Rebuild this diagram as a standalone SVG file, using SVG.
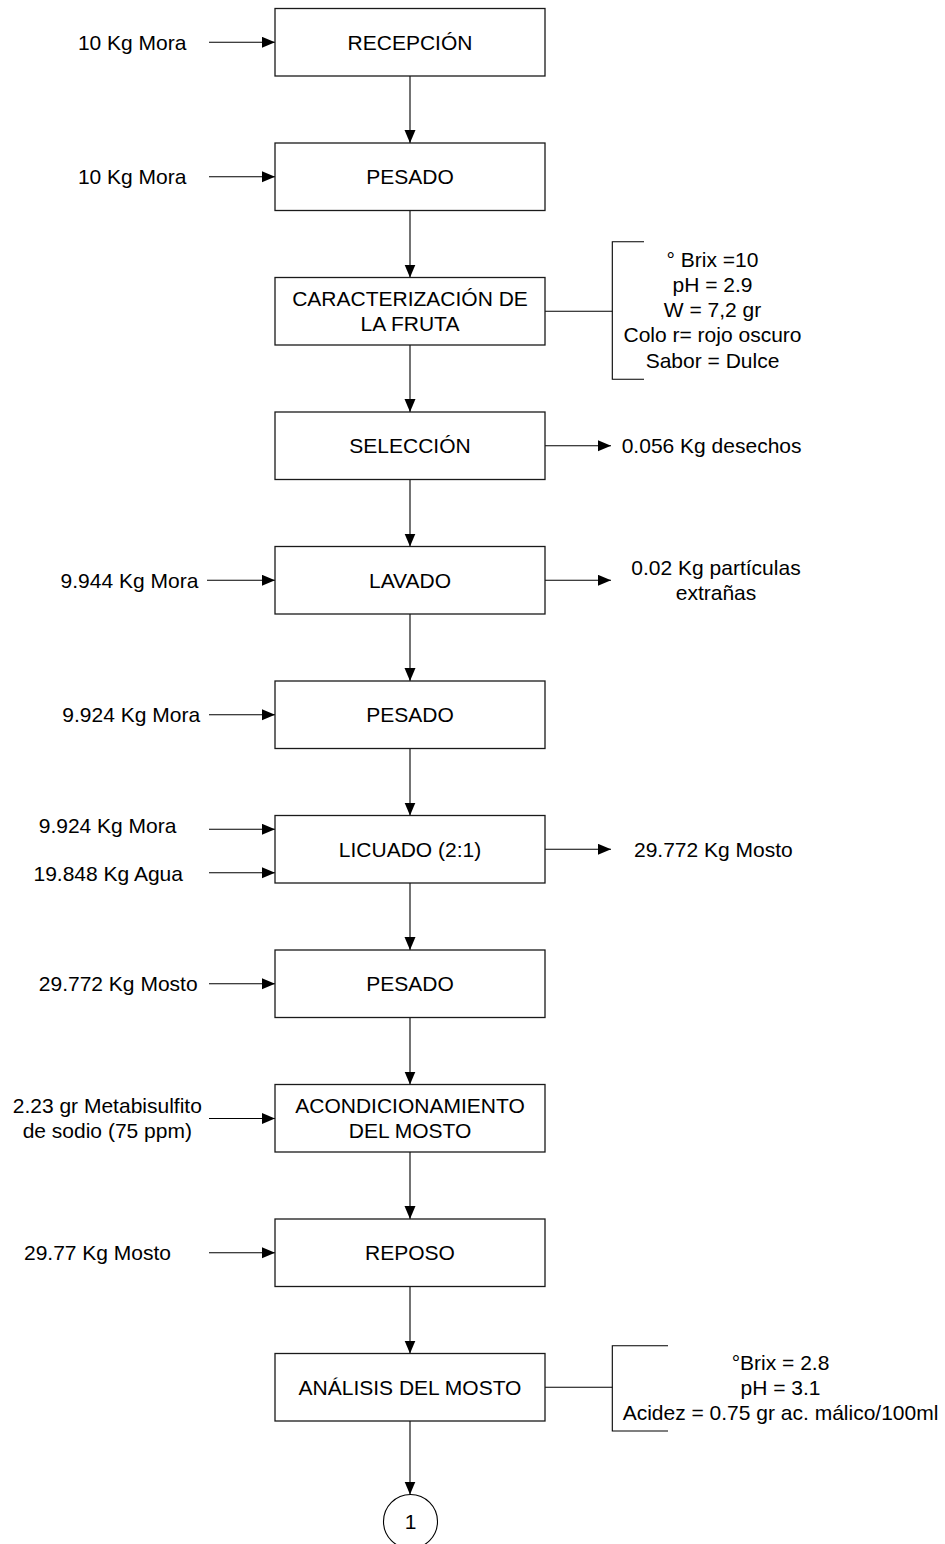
<svg xmlns="http://www.w3.org/2000/svg" width="945" height="1544" viewBox="0 0 945 1544">
<style>
text{font-family:"Liberation Sans",Arial,sans-serif;font-size:21px;fill:#000}
.c{text-anchor:middle}
.box{fill:#fff;stroke:#1a1a1a;stroke-width:1.3}
.ln{fill:none;stroke:#000;stroke-width:1.1}
.ar{fill:none;stroke:#000;stroke-width:1.1;marker-end:url(#ah)}
</style>
<defs>
<marker id="ah" markerUnits="userSpaceOnUse" markerWidth="14" markerHeight="12" refX="13" refY="5.5" orient="auto">
<path d="M0,0 L13,5.5 L0,11 z" fill="#000"/>
</marker>
</defs>
<g id="connectors">
<line class="ar" x1="410" y1="76" x2="410" y2="143"/>
<line class="ar" x1="410" y1="210.5" x2="410" y2="277.5"/>
<line class="ar" x1="410" y1="345" x2="410" y2="412"/>
<line class="ar" x1="410" y1="479.5" x2="410" y2="546.5"/>
<line class="ar" x1="410" y1="614" x2="410" y2="681"/>
<line class="ar" x1="410" y1="748.5" x2="410" y2="815.5"/>
<line class="ar" x1="410" y1="883" x2="410" y2="950"/>
<line class="ar" x1="410" y1="1017.5" x2="410" y2="1084.5"/>
<line class="ar" x1="410" y1="1152" x2="410" y2="1219"/>
<line class="ar" x1="410" y1="1286.5" x2="410" y2="1353.5"/>
<line class="ar" x1="410" y1="1421" x2="410" y2="1494.5"/>
<line class="ar" x1="209" y1="42.3" x2="275" y2="42.3"/>
<line class="ar" x1="209" y1="176.8" x2="275" y2="176.8"/>
<line class="ar" x1="545" y1="445.8" x2="611" y2="445.8"/>
<line class="ar" x1="207" y1="580.3" x2="275" y2="580.3"/>
<line class="ar" x1="545" y1="580.3" x2="611" y2="580.3"/>
<line class="ar" x1="209" y1="714.8" x2="275" y2="714.8"/>
<line class="ar" x1="209" y1="829.3" x2="275" y2="829.3"/>
<line class="ar" x1="209" y1="872.7" x2="275" y2="872.7"/>
<line class="ar" x1="545" y1="849.3" x2="611" y2="849.3"/>
<line class="ar" x1="209" y1="983.8" x2="275" y2="983.8"/>
<line class="ar" x1="209" y1="1118.5" x2="275" y2="1118.5"/>
<line class="ar" x1="209" y1="1252.8" x2="275" y2="1252.8"/>
<line class="ln" x1="545" y1="311.3" x2="612.3" y2="311.3"/>
<polyline class="ln" points="644,241.7 612.3,241.7 612.3,379.3 644,379.3"/>
<line class="ln" x1="545" y1="1387.3" x2="612.3" y2="1387.3"/>
<polyline class="ln" points="668,1345.7 612.3,1345.7 612.3,1431 668,1431"/>
</g>
<g id="n-recepcion"><rect class="box" x="275" y="8.5" width="270" height="67.5"/><text class="c" x="410" y="49.8">RECEPCIÓN</text></g>
<g id="n-pesado1"><rect class="box" x="275" y="143" width="270" height="67.5"/><text class="c" x="410" y="184.3">PESADO</text></g>
<g id="n-caract"><rect class="box" x="275" y="277.5" width="270" height="67.5"/><text class="c" x="410" y="306.2">CARACTERIZACIÓN DE</text><text class="c" x="410" y="331.4">LA FRUTA</text></g>
<g id="n-seleccion"><rect class="box" x="275" y="412" width="270" height="67.5"/><text class="c" x="410" y="453.3">SELECCIÓN</text></g>
<g id="n-lavado"><rect class="box" x="275" y="546.5" width="270" height="67.5"/><text class="c" x="410" y="587.8">LAVADO</text></g>
<g id="n-pesado2"><rect class="box" x="275" y="681" width="270" height="67.5"/><text class="c" x="410" y="722.3">PESADO</text></g>
<g id="n-licuado"><rect class="box" x="275" y="815.5" width="270" height="67.5"/><text class="c" x="410" y="856.8">LICUADO (2:1)</text></g>
<g id="n-pesado3"><rect class="box" x="275" y="950" width="270" height="67.5"/><text class="c" x="410" y="991.3">PESADO</text></g>
<g id="n-acond"><rect class="box" x="275" y="1084.5" width="270" height="67.5"/><text class="c" x="410" y="1113.2">ACONDICIONAMIENTO</text><text class="c" x="410" y="1138.4">DEL MOSTO</text></g>
<g id="n-reposo"><rect class="box" x="275" y="1219" width="270" height="67.5"/><text class="c" x="410" y="1260.3">REPOSO</text></g>
<g id="n-analisis"><rect class="box" x="275" y="1353.5" width="270" height="67.5"/><text class="c" x="410" y="1394.8">ANÁLISIS DEL MOSTO</text></g>
<g id="n-conector1"><circle cx="410.5" cy="1521.5" r="27" fill="#fff" stroke="#000" stroke-width="1.1"/><text class="c" x="410.5" y="1529">1</text></g>
<g id="labels">
<text class="c" x="132.2" y="49.8">10 Kg Mora</text>
<text class="c" x="132.2" y="184.3">10 Kg Mora</text>
<text x="621.7" y="453.3">0.056 Kg desechos</text>
<text class="c" x="129.5" y="587.8">9.944 Kg Mora</text>
<text class="c" x="716" y="575.1">0.02 Kg partículas</text>
<text class="c" x="716" y="600.3">extrañas</text>
<text class="c" x="131.2" y="722.3">9.924 Kg Mora</text>
<text class="c" x="107.6" y="832.8">9.924 Kg Mora</text>
<text class="c" x="108.2" y="880.8">19.848 Kg Agua</text>
<text x="634" y="856.8">29.772 Kg Mosto</text>
<text class="c" x="118.2" y="991.3">29.772 Kg Mosto</text>
<text class="c" x="107.3" y="1112.7">2.23 gr Metabisulfito</text>
<text class="c" x="107.3" y="1137.9">de sodio (75 ppm)</text>
<text class="c" x="97.5" y="1260.3">29.77 Kg Mosto</text>
<text class="c" x="712.5" y="266.7">° Brix =10</text>
<text class="c" x="712.5" y="291.9">pH = 2.9</text>
<text class="c" x="712.5" y="317.1">W = 7,2 gr</text>
<text class="c" x="712.5" y="342.3">Colo r= rojo oscuro</text>
<text class="c" x="712.5" y="367.5">Sabor = Dulce</text>
<text class="c" x="780.5" y="1369.5">°Brix = 2.8</text>
<text class="c" x="780.5" y="1394.8">pH = 3.1</text>
<text class="c" x="780.5" y="1420.1">Acidez = 0.75 gr ac. málico/100ml</text>
</g>
</svg>
